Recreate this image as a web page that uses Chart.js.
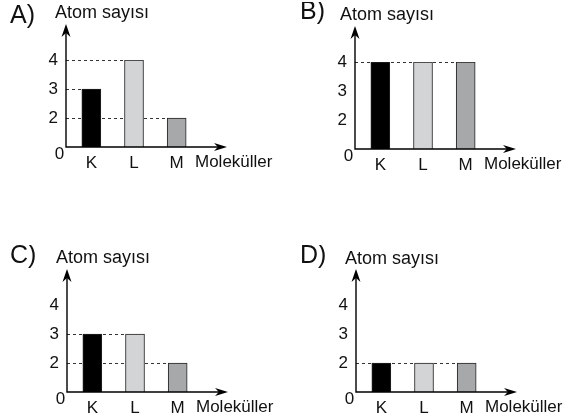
<!DOCTYPE html>
<html lang="tr">
<head>
<meta charset="utf-8">
<title>Atom sayısı</title>
<script src="https://cdn.jsdelivr.net/npm/chart.js@4/dist/chart.umd.min.js"></script>
<style>
  html, body { margin: 0; padding: 0; background: #fff; overflow: hidden; }
  body { width: 577px; height: 419px; position: relative; }
  canvas { position: absolute; }
</style>
</head>
<body>
<canvas id="panelA" width="288" height="175" style="left:0px;top:0px"></canvas>
<canvas id="panelB" width="288" height="175" style="left:289px;top:2px"></canvas>
<canvas id="panelC" width="288" height="175" style="left:1px;top:245px"></canvas>
<canvas id="panelD" width="288" height="175" style="left:290px;top:245px"></canvas>
<script>
// veriler
const categories = ['K', 'L', 'M'];
const panelLetters = ['A)', 'B)', 'C)', 'D)'];
const valuesA = [3, 4, 2];
const valuesB = [4, 4, 4];
const valuesC = [3, 3, 2];
const valuesD = [2, 2, 2];
const yTicks = [2, 3, 4];
const yZeroLabel = '0';
const yAxisTitle = 'Atom sayısı';
const xAxisTitle = 'Moleküller';

// görünüm
const FONT = "'Liberation Sans', Arial, sans-serif";
const barColors = ['#000000', '#d3d4d6', '#a7a8aa'];
const AXIS_GAP = 4; // y ekseni ile ilk kategori bölgesi arasındaki boşluk

// panel başına metin yerleşimi (canvas içi)
const panelLayouts = [
  { id: 'panelA', letterX: 10, letterY: 23, titleX: 55, titleY: 18 },
  { id: 'panelB', letterX: 11, letterY: 17, titleX: 51, titleY: 18 },
  { id: 'panelC', letterX: 9,  letterY: 18, titleX: 55, titleY: 18 },
  { id: 'panelD', letterX: 10, letterY: 18, titleX: 55, titleY: 19 }
];

function drawArrowHead(ctx, x, y, dir, len, half) {
  // dir: 'up' veya 'right'
  ctx.beginPath();
  if (dir === 'up') {
    ctx.moveTo(x, y);
    ctx.lineTo(x + half, y + len);
    ctx.lineTo(x, y + len * 0.7);
    ctx.lineTo(x - half, y + len);
  } else {
    ctx.moveTo(x, y);
    ctx.lineTo(x - len, y - half);
    ctx.lineTo(x - len * 0.7, y);
    ctx.lineTo(x - len, y + half);
  }
  ctx.closePath();
  ctx.fill();
}

const panelDecor = {
  id: 'panelDecor',
  beforeDatasetsDraw(chart) {
    // bar tepelerinden eksene kesikli çizgiler
    const { ctx, chartArea } = chart;
    const x0 = chartArea.left - AXIS_GAP;
    const meta = chart.getDatasetMeta(0);
    ctx.save();
    ctx.strokeStyle = '#333';
    ctx.lineWidth = 1;
    ctx.setLineDash([3, 3]);
    meta.data.forEach(bar => {
      const y = Math.round(bar.y) + 0.5;
      ctx.beginPath();
      ctx.moveTo(x0, y);
      ctx.lineTo(bar.x - bar.width / 2, y);
      ctx.stroke();
    });
    ctx.restore();
  },
  afterDatasetsDraw(chart, args, opts) {
    const { ctx, chartArea } = chart;
    const x0 = chartArea.left - AXIS_GAP;
    const y0 = chartArea.bottom;
    const tipY = chartArea.top - 36;
    const tipX = x0 + 161;

    ctx.save();
    ctx.strokeStyle = '#000';
    ctx.fillStyle = '#000';
    ctx.lineWidth = 1.4;
    ctx.beginPath();
    ctx.moveTo(x0, tipY + 8);
    ctx.lineTo(x0, y0);
    ctx.lineTo(tipX - 8, y0);
    ctx.stroke();
    drawArrowHead(ctx, x0, tipY, 'up', 13, 4.5);
    drawArrowHead(ctx, tipX, y0, 'right', 13, 4);

    // eksen yazıları
    ctx.fillStyle = '#111';
    ctx.textBaseline = 'alphabetic';
    ctx.font = '17px ' + FONT;
    ctx.textAlign = 'center';
    ctx.fillText(yZeroLabel, x0 - 6.5, y0 + 12);
    ctx.textAlign = 'left';
    ctx.fillText(xAxisTitle, x0 + 129, y0 + 20);

    const lay = opts.layout;
    ctx.font = '18px ' + FONT;
    ctx.fillText(yAxisTitle, lay.titleX, lay.titleY);
    ctx.font = '25px ' + FONT;
    ctx.fillText(opts.letter, lay.letterX, lay.letterY);
    ctx.restore();
  }
};

function makePanel(values, letter, layout) {
  const canvas = document.getElementById(layout.id);
  return new Chart(canvas, {
    type: 'bar',
    data: {
      labels: categories,
      datasets: [{
        data: values,
        backgroundColor: barColors,
        borderColor: '#222',
        borderWidth: 1,
        borderSkipped: 'bottom',
        barThickness: 19
      }]
    },
    options: {
      responsive: false,
      animation: false,
      events: [],
      layout: { padding: { left: 30, top: 60, right: 90, bottom: 0 } },
      plugins: {
        legend: { display: false },
        tooltip: { enabled: false },
        panelDecor: { letter, layout }
      },
      scales: {
        x: {
          grid: { display: false, drawTicks: false },
          border: { display: false },
          ticks: {
            color: '#111',
            font: { family: FONT, size: 17 },
            padding: 6,
            autoSkip: false,
            maxRotation: 0
          },
          afterFit: s => { s.height = 28; }
        },
        y: {
          min: 1,
          max: 4,
          grid: { display: false, drawTicks: false },
          border: { display: false },
          ticks: {
            color: '#111',
            font: { family: FONT, size: 17 },
            padding: 12
          },
          afterBuildTicks: s => { s.ticks = yTicks.map(v => ({ value: v })); },
          afterFit: s => { s.width = 40; }
        }
      }
    },
    plugins: [panelDecor]
  });
}

makePanel(valuesA, panelLetters[0], panelLayouts[0]);
makePanel(valuesB, panelLetters[1], panelLayouts[1]);
makePanel(valuesC, panelLetters[2], panelLayouts[2]);
makePanel(valuesD, panelLetters[3], panelLayouts[3]);
</script>
</body>
</html>
